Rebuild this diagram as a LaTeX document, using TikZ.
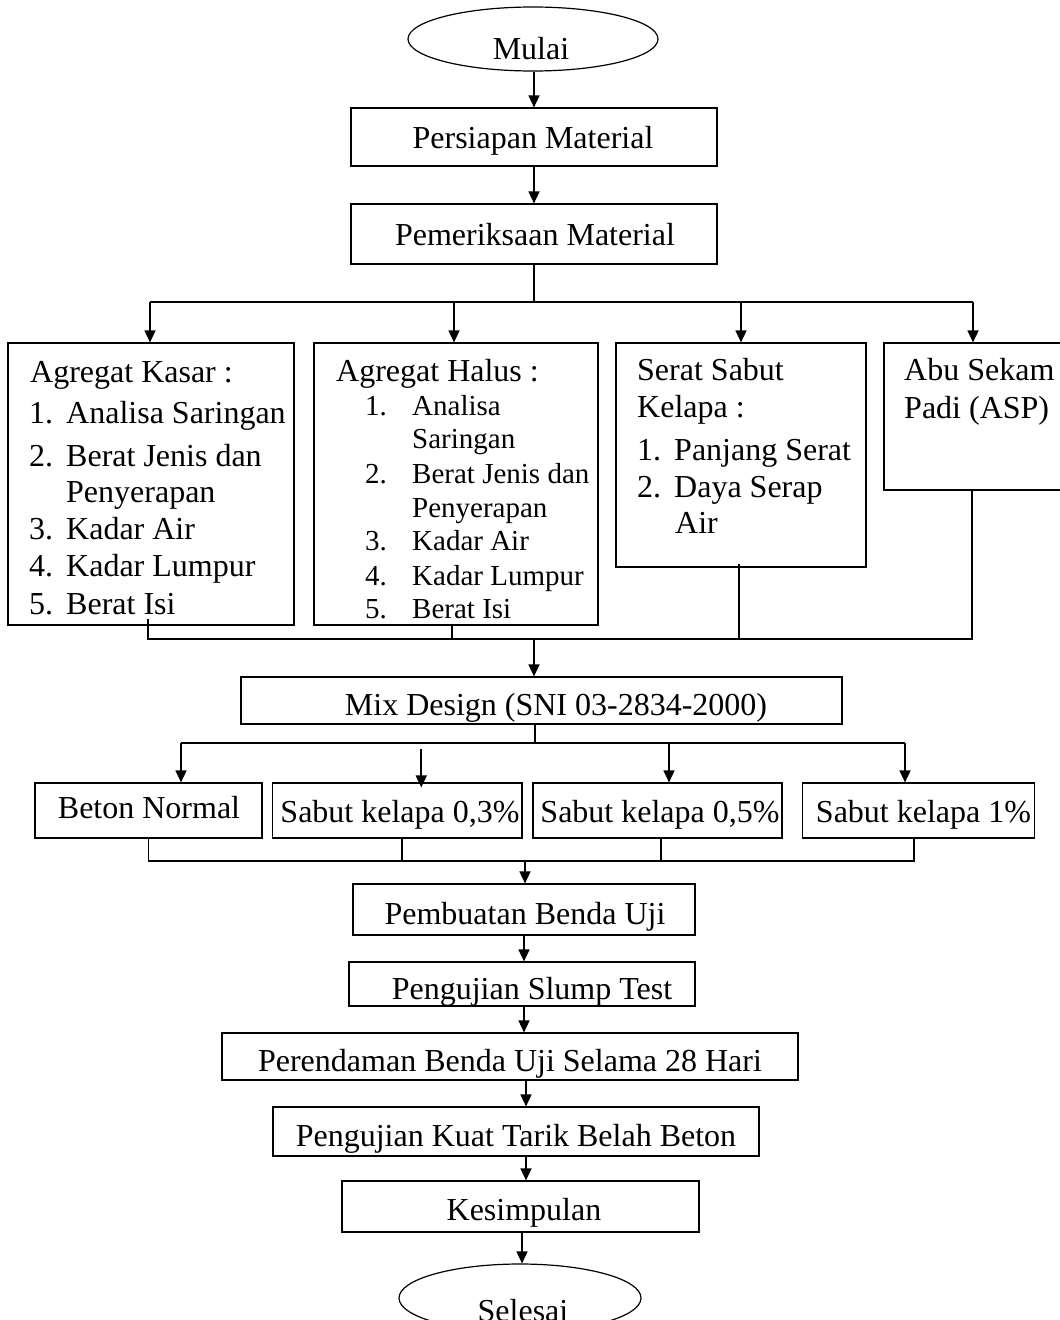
\documentclass[tikz,border=0pt]{standalone}
\usepackage{fontspec}
\setmainfont{Liberation Serif}
\usetikzlibrary{arrows.meta,shapes.geometric}
\newcommand\diagfont{\fontsize{32pt}{37pt}\selectfont}
\newcommand\smallerdiagfont{\fontsize{29pt}{34pt}\selectfont}
\tikzset{
  box/.style={draw, line width=1.2pt, rectangle, inner sep=0pt},
  oval/.style={draw, line width=1.2pt, ellipse, inner sep=0pt},
  txt/.style={inner sep=0pt, font=\diagfont},
  stxt/.style={inner sep=0pt, font=\smallerdiagfont},
  conn/.style={line width=1.7pt},
  arr/.style={line width=1.7pt, -{Triangle[width=11pt,length=12pt]}}
}
\begin{document}
\begin{tikzpicture}[x=1pt,y=-1pt]
\useasboundingbox (0,0) rectangle (1060,1320);
\clip (0,0) rectangle (1060,1320);
\fill[white] (0,0) rectangle (1060,1320);

% ---- top chain
\node[oval, minimum width=250pt, minimum height=64pt] (mulai) at (533,39) {};
\node[txt, anchor=base] (tmulai) at (531,59) {Mulai};
\node[box, minimum width=366pt, minimum height=58pt] (pers) at (534,137) {};
\node[txt, anchor=base] (tpers) at (533,148) {Persiapan Material};
\node[box, minimum width=366pt, minimum height=60pt] (pem) at (534,234) {};
\node[txt, anchor=base] (tpem) at (535,245) {Pemeriksaan Material};

\draw[arr] (pers.north |- mulai.south) -- (pers.north);
\draw[arr] (pem.north |- pers.south) -- (pem.north);

% ---- four material boxes
\node[box, minimum width=286pt, minimum height=282pt] (k1) at (151,484) {};
\node[box, minimum width=284pt, minimum height=282pt] (k2) at (456,484) {};
\node[box, minimum width=250pt, minimum height=224pt] (k3) at (741,455) {};
\node[box, minimum width=178pt, minimum height=147pt] (k4) at (973,416.5) {};

\coordinate (j1) at (534,302);
\draw[conn] (pem.south) -- (j1);
\draw[conn] ([xshift=-1pt]k1.north |- j1) -- (k4.north |- j1);
\draw[arr] ([xshift=-1pt]k1.north |- j1) -- ([xshift=-1pt]k1.north);
\draw[arr] ([xshift=-2pt]k2.north |- j1) -- ([xshift=-2pt]k2.north);
\draw[arr] (k3.north |- j1) -- (k3.north);
\draw[arr] (k4.north |- j1) -- (k4.north);

% box 1 text
\node[txt, anchor=base west] (a0) at (30,382) {Agregat Kasar :};
\node[txt, anchor=base west] (a1n) at (29,423) {1.};
\node[txt, anchor=base west] (a1) at (66,423) {Analisa Saringan};
\node[txt, anchor=base west] (a2n) at (29,466) {2.};
\node[txt, anchor=base west] (a2) at (66,466) {Berat Jenis dan};
\node[txt, anchor=base west] (a2b) at (66,502) {Penyerapan};
\node[txt, anchor=base west] (a3n) at (29,539) {3.};
\node[txt, anchor=base west] (a3) at (66,539) {Kadar Air};
\node[txt, anchor=base west] (a4n) at (29,576) {4.};
\node[txt, anchor=base west] (a4) at (66,576) {Kadar Lumpur};
\node[txt, anchor=base west] (a5n) at (29,614) {5.};
\node[txt, anchor=base west] (a5) at (66,614) {Berat Isi};

% box 2 text
\node[txt, anchor=base west] (b0) at (336,381) {Agregat Halus :};
\node[stxt, anchor=base west] (b1n) at (365,415) {1.};
\node[stxt, anchor=base west] (b1) at (412,415) {Analisa};
\node[stxt, anchor=base west] (b1b) at (412,448) {Saringan};
\node[stxt, anchor=base west] (b2n) at (365,483) {2.};
\node[stxt, anchor=base west] (b2) at (412,483) {Berat Jenis dan};
\node[stxt, anchor=base west] (b2b) at (412,517) {Penyerapan};
\node[stxt, anchor=base west] (b3n) at (365,550) {3.};
\node[stxt, anchor=base west] (b3) at (412,550) {Kadar Air};
\node[stxt, anchor=base west] (b4n) at (365,585) {4.};
\node[stxt, anchor=base west] (b4) at (412,585) {Kadar Lumpur};
\node[stxt, anchor=base west] (b5n) at (365,618) {5.};
\node[stxt, anchor=base west] (b5) at (412,618) {Berat Isi};

% box 3 text
\node[txt, anchor=base west] (c0) at (637,380) {Serat Sabut};
\node[txt, anchor=base west] (c0b) at (637,417) {Kelapa :};
\node[txt, anchor=base west] (c1n) at (637,460) {1.};
\node[txt, anchor=base west] (c1) at (674,460) {Panjang Serat};
\node[txt, anchor=base west] (c2n) at (637,497) {2.};
\node[txt, anchor=base west] (c2) at (674,497) {Daya Serap};
\node[txt, anchor=base west] (c2b) at (675,533) {Air};

% box 4 text
\node[txt, anchor=base west] (d0) at (904,380) {Abu Sekam};
\node[txt, anchor=base west] (d0b) at (904,418) {Padi (ASP)};

% ---- merge into Mix Design
\node[box, minimum width=601pt, minimum height=47pt] (mix) at (541.5,700.5) {};
\node[txt, anchor=base] (tmix) at (556,715) {Mix Design (SNI 03-2834-2000)};

\coordinate (jb) at (534,639);
\draw[conn] ([xshift=-3pt,yshift=7pt]k1.south) |- ([xshift=-1pt]k4.south |- jb) -- ([xshift=-1pt]k4.south);
\draw[conn] ([xshift=-4pt,yshift=2pt]k2.south) -- ([xshift=-4pt]k2.south |- jb);
\draw[conn] ([xshift=-2pt,yshift=4pt]k3.south) -- ([xshift=-2pt]k3.south |- jb);
\draw[arr] (jb) -- (jb |- mix.north);

% ---- four variants
\node[box, minimum width=227pt, minimum height=55pt] (s1) at (148.5,810.5) {};
\node[box, minimum width=249.5pt, minimum height=55pt] (s2) at (397.25,810.5) {};
\node[box, minimum width=249pt, minimum height=55pt] (s3) at (657.5,810.5) {};
\node[box, minimum width=232pt, minimum height=55pt] (s4) at (918.5,810.5) {};
\node[txt, anchor=base] (ts1) at (149,818) {Beton Normal};
\node[txt, anchor=base] (ts2) at (400,822) {Sabut kelapa 0,3\%};
\node[txt, anchor=base] (ts3) at (660,822) {Sabut kelapa 0,5\%};
\node[txt, anchor=base] (ts4) at (923.5,822) {Sabut kelapa 1\%};

\coordinate (jc) at (535,743);
\draw[conn] (jc |- mix.south) -- (jc);
\draw[conn] ([xshift=32.5pt]s1.north |- jc) -- ([xshift=-13.5pt]s4.north |- jc);
\draw[arr] ([xshift=32.5pt]s1.north |- jc) -- ([xshift=32.5pt]s1.north);
\draw[arr] ([xshift=24pt,yshift=-6pt]s2.north |- jc) -- ([xshift=24pt,yshift=-5pt]s2.north);
\draw[arr] ([xshift=11.5pt]s3.north |- jc) -- ([xshift=11.5pt]s3.north);
\draw[arr] ([xshift=-13.5pt]s4.north |- jc) -- ([xshift=-13.5pt]s4.north);

% ---- lower chain
\node[box, minimum width=342pt, minimum height=51pt] (pb) at (524,909.5) {};
\node[txt, anchor=base] (tpb) at (525,924) {Pembuatan Benda Uji};
\node[box, minimum width=346pt, minimum height=44pt] (sl) at (522,984) {};
\node[txt, anchor=base] (tsl) at (532,999) {Pengujian Slump Test};
\node[box, minimum width=576pt, minimum height=47pt] (pr) at (510,1056.5) {};
\node[txt, anchor=base] (tpr) at (510,1071) {Perendaman Benda Uji Selama 28 Hari};
\node[box, minimum width=486pt, minimum height=49pt] (kt) at (516,1131.5) {};
\node[txt, anchor=base] (tkt) at (516,1146) {Pengujian Kuat Tarik Belah Beton};
\node[box, minimum width=357pt, minimum height=51pt] (ks) at (520.5,1206.5) {};
\node[txt, anchor=base] (tks) at (524,1220) {Kesimpulan};
\node[oval, minimum width=242pt, minimum height=68pt] (sel) at (520,1298) {};
\node[txt, anchor=base] (tsel) at (523,1321) {Selesai};

\coordinate (jd) at (525,861);
\draw[conn] (s1.south) |- ([xshift=-4.5pt]s4.south |- jd) -- ([xshift=-4.5pt]s4.south);
\draw[conn] ([xshift=5pt]s2.south) -- ([xshift=5pt]s2.south |- jd);
\draw[conn] ([xshift=3.5pt]s3.south) -- ([xshift=3.5pt]s3.south |- jd);
\draw[arr] (jd) -- (jd |- pb.north);

\draw[arr] (pb.south) -- (pb.south |- sl.north);
\draw[arr] ([xshift=2pt]sl.south) -- ([xshift=2pt]sl.south |- pr.north);
\draw[arr] ([xshift=16pt]pr.south) -- ([xshift=16pt]pr.south |- kt.north);
\draw[arr] ([xshift=10pt]kt.south) -- ([xshift=10pt]kt.south |- ks.north);
\draw[arr] ([xshift=1.5pt]ks.south) -- ([xshift=1.5pt]ks.south |- sel.north);
\end{tikzpicture}
\end{document}
